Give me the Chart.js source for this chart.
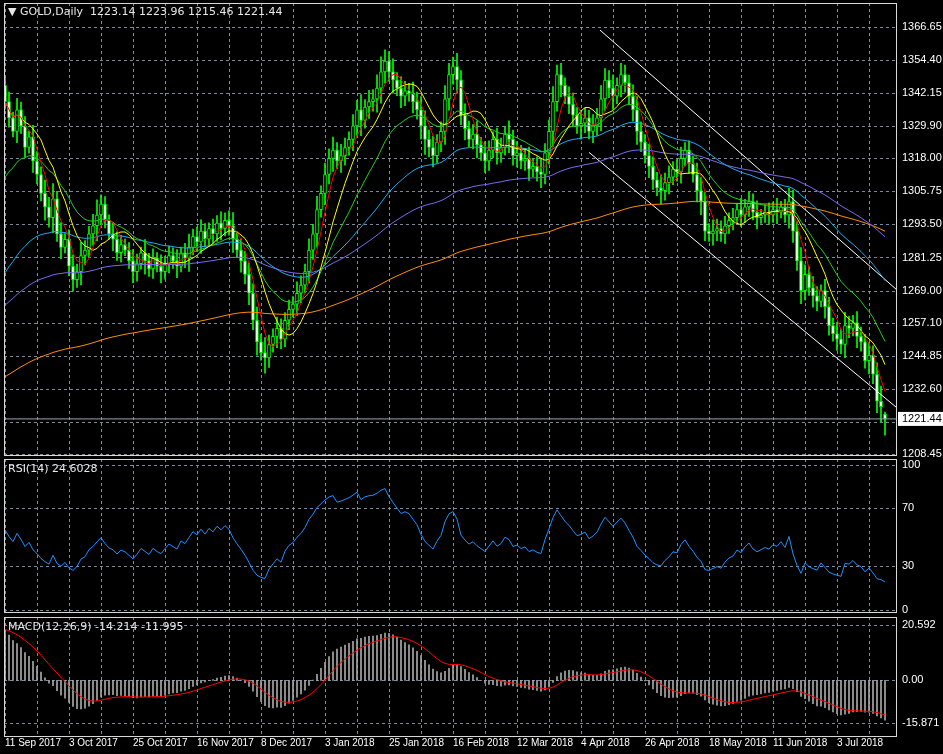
<!DOCTYPE html>
<html><head><meta charset="utf-8">
<script src="https://cdn.jsdelivr.net/npm/chart.js@4/dist/chart.umd.min.js"></script>
<style>
html,body{margin:0;padding:0;background:#000;width:943px;height:754px;overflow:hidden}
.pane{position:absolute;left:0}
.lbl{position:absolute;color:#e8e8e8;font:11px "DejaVu Sans",sans-serif;white-space:pre}
</style></head><body>
<div class="pane" style="top:0"><canvas id="c1" width="943" height="457"></canvas></div>
<div class="pane" style="top:457px"><canvas id="c2" width="943" height="158"></canvas></div>
<div class="pane" style="top:615px"><canvas id="c3" width="943" height="139"></canvas></div>
<div class="lbl" style="left:8px;top:5px">▼ GOLD,Daily  1223.14 1223.96 1215.46 1221.44</div>
<div class="lbl" style="left:8px;top:462px">RSI(14) 24.6028</div>
<div class="lbl" style="left:8px;top:620px">MACD(12,26,9) -14.214 -11.995</div>
<script>
const dateLabels=["11 Sep 2017","3 Oct 2017","25 Oct 2017","16 Nov 2017","8 Dec 2017","3 Jan 2018","25 Jan 2018","16 Feb 2018","12 Mar 2018","4 Apr 2018","26 Apr 2018","18 May 2018","11 Jun 2018","3 Jul 2018"];
const closes=[1339,1333,1328,1336,1330,1322,1326,1317,1312,1305,1300,
1296,1303,1290,1285,1288,1278,1273,1276,1282,1284,
1290,1293,1297,1301,1295,1290,1288,1283,1286,1284,
1280,1276,1279,1283,1280,1277,1281,1278,1276,1279,
1282,1280,1278,1283,1281,1285,1289,1287,1291,1288,
1292,1290,1294,1292,1295,1293,1288,1284,1280,1275,
1268,1258,1250,1246,1244,1249,1252,1255,1251,1258,
1262,1264,1268,1271,1276,1284,1290,1299,1305,1312,
1318,1321,1317,1319,1322,1325,1330,1336,1332,1337,
1339,1340,1344,1350,1354,1350,1347,1344,1341,1343,
1342,1339,1336,1330,1325,1322,1319,1324,1328,1340,
1349,1352,1347,1334,1329,1325,1327,1323,1320,1317,
1321,1325,1320,1322,1327,1325,1319,1320,1317,1318,
1314,1315,1313,1312,1320,1328,1339,1349,1345,1341,
1338,1334,1330,1331,1333,1328,1330,1333,1340,1347,
1344,1341,1345,1349,1346,1341,1336,1328,1324,1319,
1315,1310,1307,1306,1309,1311,1314,1313,1318,1321,
1316,1312,1306,1302,1291,1290,1291,1292,1290,1293,
1295,1296,1299,1297,1300,1302,1298,1296,1297,1298,
1297,1299,1298,1300,1297,1302,1291,1280,1269,1275,
1270,1267,1265,1269,1263,1256,1253,1251,1249,1256,
1255,1257,1252,1250,1243,1245,1238,1228,1226,1221.44];
const wick=[4,5,3,6,4,5,3,6,5,4,7,
5,8,4,6,3,5,6,4,7,5,
4,6,8,5,4,3,6,4,5,3,
4,6,5,3,7,4,5,3,6,4,
5,4,6,3,5,7,4,5,6,4,
3,5,4,6,4,5,7,4,6,5,
6,5,7,4,8,5,4,6,5,4,
5,4,6,5,4,6,5,7,4,6,
5,7,4,6,5,4,6,5,8,4,
6,5,7,8,6,5,7,4,6,5,
4,6,5,7,8,5,6,4,5,7,
6,5,7,5,6,4,5,7,4,6,
5,4,6,5,4,7,5,6,4,5,
6,4,5,7,5,6,8,5,6,4,
5,6,4,7,5,4,6,5,7,6,
5,7,4,6,5,4,6,7,5,4,
6,5,4,7,5,6,4,5,6,4,
5,4,6,7,5,4,6,5,4,5,
4,5,3,6,4,5,4,6,3,4,
5,4,6,3,4,7,6,5,7,5,
4,6,5,3,6,5,4,6,5,7,
5,4,6,5,4,7,5,6,8,7];
const firstOpen=1345;
const lastOpen=1223.14;
const priceTicks=[1208.45,1220.35,1232.60,1244.85,1257.10,1269.00,1281.25,1293.50,1305.75,1318.00,1329.90,1342.15,1354.40,1366.65];
const rsiTicks=[0,30,70,100];
const macdTicks=[-15.871,0,20.592];
const maSeeds={ema20:1308,ema50:1273,ema100:1262,ema200:1236};
const macdSeeds={ema12:1338,ema26:1318,signal:19};
const rsiSeeds={gain:3,loss:2};
const channelUpper=[[148.75,1365.5],[223,1269.2]];
const channelLower=[[146,1320.2],[223.75,1224.6]];

const N=closes.length;
const opens=closes.map((c,i)=>i==0?firstOpen:(i==N-1?lastOpen:closes[i-1]));
const highs=closes.map((c,i)=>Math.max(c,opens[i])+(wick[i]||4)*0.7);
const lows=closes.map((c,i)=>Math.min(c,opens[i])-(wick[i]||4)*0.7);
highs[N-1]=1223.96;lows[N-1]=1215.46;
function sma(p){return closes.map((c,i)=>{const s=closes.slice(Math.max(0,i-p+1),i+1);return s.reduce((a,b)=>a+b,0)/s.length;});}
function ema(arr,p,seed){let e=seed;return arr.map(c=>{e+= (c-e)*2/(p+1);return e;});}
const pts=a=>a.map((v,i)=>({x:i,y:v}));
const e12=ema(closes,12,macdSeeds.ema12),e26=ema(closes,26,macdSeeds.ema26);
const macd=e12.map((v,i)=>v-e26[i]);
const signal=ema(macd,9,macdSeeds.signal);
let ag=rsiSeeds.gain,al=rsiSeeds.loss;
const rsi=closes.map((c,i)=>{const d=c-(i?closes[i-1]:firstOpen);ag=(ag*13+Math.max(d,0))/14;al=(al*13+Math.max(-d,0))/14;return 100-100/(1+ag/al);});

Chart.defaults.font.family='"Liberation Sans",sans-serif';
Chart.defaults.font.size=11;
Chart.defaults.color='#ffffff';
Chart.defaults.animation=false;
const GRID='#7d8a99';
const frame={id:'frame',
 beforeDatasetsDraw(ch){const a=ch.chartArea,c=ch.ctx,xs=ch.scales.x,ys=ch.scales.y;c.save();c.strokeStyle=GRID;c.lineWidth=1;c.setLineDash([3,3]);
  xs.ticks.forEach(t=>{const x=Math.round(xs.getPixelForValue(t.value))+0.5;if(x<=a.left+1||x>=a.right-1)return;c.beginPath();c.moveTo(x,a.top);c.lineTo(x,a.bottom);c.stroke();});
  ys.ticks.forEach(t=>{const y=Math.round(ys.getPixelForValue(t.value))+0.5;if(y<=a.top+1||y>=a.bottom-1)return;c.beginPath();c.moveTo(a.left,y);c.lineTo(a.right,y);c.stroke();});
  c.restore();},
 afterDraw(ch){const a=ch.chartArea,c=ch.ctx;c.save();c.strokeStyle='#d8d8d8';c.lineWidth=1;c.strokeRect(a.left+0.5,a.top+0.5,a.right-a.left-1,a.bottom-a.top-1);c.restore();}};
function xAxis(showLabels){return{type:'linear',min:-0.25,max:223,offset:false,
 afterBuildTicks(s){s.ticks=[];for(let v=0;v<=223;v+=8)s.ticks.push({value:v});},
 ticks:{display:showLabels,autoSkip:false,maxRotation:0,align:'start',padding:0,font:{size:10},callback:v=>v%16==0?(dateLabels[v/16]||''):''},
 grid:{display:false,drawTicks:false},border:{display:false},
 afterFit(s){s.height=showLabels?17:0;s.paddingLeft=0;s.paddingRight=0;}};}
function yAxis(min,max,ticks,fmt){return{position:'right',min,max,
 afterBuildTicks(s){s.ticks=ticks.map(v=>({value:v}));},
 ticks:{padding:5,callback:fmt,color:'#fff'},
 grid:{display:false,drawTicks:false},border:{display:false},
 afterFit(s){s.width=46;s.paddingTop=0;s.paddingBottom=0;}};}
function line(data,color,w){return{type:'line',data,borderColor:color,borderWidth:w||1,pointRadius:0,tension:0,order:1};}

const priceLabel={id:'plabel',afterDraw(ch){const y=ch.scales.y.getPixelForValue(1221.44),c=ch.ctx;c.save();c.fillStyle='#ffffff';c.fillRect(898,y-7,45,14);c.fillStyle='#000';c.font='11px "Liberation Sans",sans-serif';c.textBaseline='middle';c.fillText('1221.44',902,y+0.5);c.restore();}};

new Chart(document.getElementById('c1'),{type:'bar',
 data:{datasets:[
  line(pts(sma(5)),'#ff0000'),
  line(pts(sma(10)),'#ffff00'),
  line(pts(ema(closes,20,maSeeds.ema20)),'#22cc22'),
  line(pts(ema(closes,50,maSeeds.ema50)),'#1ea8f0'),
  line(pts(ema(closes,100,maSeeds.ema100)),'#7b68ee'),
  line(pts(ema(closes,200,maSeeds.ema200)),'#ff8c00'),
  line(channelUpper.map(p=>({x:p[0],y:p[1]})),'#ffffff'),
  line(channelLower.map(p=>({x:p[0],y:p[1]})),'#ffffff'),
  line([{x:-0.25,y:1221.44},{x:223,y:1221.44}],'#9aa4b0'),
  {type:'bar',data:closes.map((c,i)=>({x:i,y:[lows[i],highs[i]]})),backgroundColor:'#00ff00',barThickness:1,grouped:false,order:11},
  {type:'bar',data:closes.map((c,i)=>({x:i,y:[opens[i],c]})),backgroundColor:closes.map((c,i)=>c>=opens[i]?'#000000':'#ffffff'),borderColor:'#00ff00',borderWidth:1,borderSkipped:false,barThickness:3,grouped:false,order:10}
 ]},
 options:{responsive:false,devicePixelRatio:1,layout:{padding:{left:4,top:3,bottom:1,right:0}},
  plugins:{legend:{display:false},tooltip:{enabled:false}},
  scales:{x:xAxis(false),y:yAxis(1207.70,1375.54,priceTicks,v=>v==1220.35?'':v.toFixed(2))}},
 plugins:[frame,priceLabel]});

new Chart(document.getElementById('c2'),{type:'line',
 data:{datasets:[line(pts(rsi),'#1e90ff')]},
 options:{responsive:false,devicePixelRatio:1,layout:{padding:{left:4,top:2,bottom:2,right:0}},
  plugins:{legend:{display:false},tooltip:{enabled:false}},
  scales:{x:xAxis(false),y:yAxis(-2.4,103.8,rsiTicks,v=>String(v))}},
 plugins:[frame]});

new Chart(document.getElementById('c3'),{type:'bar',
 data:{datasets:[
  line(pts(signal),'#ff0000'),
  {type:'bar',data:macd.map((v,i)=>({x:i,y:[0,v]})),backgroundColor:'#a8a8a8',barThickness:1,grouped:false,order:10}
 ]},
 options:{responsive:false,devicePixelRatio:1,layout:{padding:{left:4,top:2,bottom:0,right:0}},
  plugins:{legend:{display:false},tooltip:{enabled:false}},
  scales:{x:xAxis(true),y:yAxis(-21.08,23.57,macdTicks,v=>v==0?'0.00':String(v))}},
 plugins:[frame]});
</script></body></html>
